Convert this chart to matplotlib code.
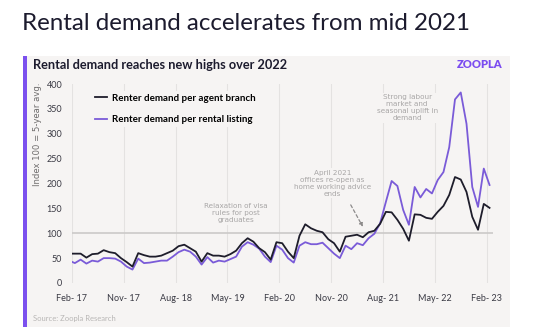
import numpy as np
import matplotlib
matplotlib.use("Agg")
import matplotlib.pyplot as plt
from matplotlib.patches import Rectangle

# ----------------------------
# Data (monthly index, Jan 17 .. Feb 23, 100 = 5-year avg.)
# ----------------------------
agent_branch = [
    59, 59, 59, 51, 58, 59, 66, 62, 60, 50, 42, 33,
    60, 56, 53, 53, 55, 60, 65, 74, 77, 70, 63, 43,
    60, 55, 55, 53, 58, 65, 80, 90, 83, 70, 62, 47,
    82, 80, 63, 50, 95, 118, 110, 105, 102, 88, 80, 63,
    93, 95, 97, 92, 102, 105, 119, 143, 142, 127, 109, 85,
    138, 137, 131, 129, 143, 155, 177, 213, 208, 183, 133, 107,
    159, 151,
]
rental_listing = [
    45, 40, 47, 39, 45, 43, 50, 50, 49, 43, 33, 27,
    49, 40, 41, 43, 45, 45, 53, 62, 67, 63, 53, 37,
    52, 41, 45, 43, 48, 53, 73, 82, 77, 69, 53, 42,
    75, 67, 50, 41, 75, 82, 78, 78, 81, 70, 59, 50,
    75, 68, 80, 76, 90, 99, 120, 163, 205, 195, 147, 117,
    193, 172, 189, 180, 207, 223, 273, 369, 383, 320, 193, 153,
    230, 197,
]
# months since Feb 17, points sit mid-month
months = np.arange(len(agent_branch)) - 1 + 0.5

tick_pos = [0, 9, 18, 27, 36, 45, 54, 63, 72]
tick_labels = ["Feb- 17", "Nov- 17", "Aug- 18", "May- 19", "Feb- 20",
               "Nov- 20", "Aug- 21", "May- 22", "Feb- 23"]

BLACK = "#1e1d2b"
PURPLE = "#7a5bd8"
PANEL = "#f6f4f3"
GREY_TXT = "#a8a6a6"
FONT = "Lato"
WIDE = "DejaVu Sans"

# ----------------------------
# Figure + panel
# ----------------------------
W, H = 554, 330
fig = plt.figure(figsize=(W / 100, H / 100), dpi=100)

def fx(px):
    return px / W

def fy(py):
    return 1 - py / H

fig.patches.append(Rectangle((fx(23), fy(327)), fx(510) - fx(23), fy(56) - fy(327),
                             transform=fig.transFigure, facecolor=PANEL, edgecolor="none", zorder=-2))
fig.patches.append(Rectangle((fx(23), fy(327)), fx(4), fy(56) - fy(327),
                             transform=fig.transFigure, facecolor="#7b50ee", edgecolor="none", zorder=-1))

fig.text(fx(22), fy(24), "Rental demand accelerates from mid 2021", fontsize=17.4,
         color="#1c1b2e", family=FONT, va="center", ha="left")
fig.text(fx(33), fy(65), "Rental demand reaches new highs over 2022", fontsize=9.2,
         color="#1c1b2e", family=FONT, fontweight="bold", va="center", ha="left")
fig.text(fx(502), fy(64), "ZOOPLA", fontsize=8, color="#7b4cf0", family=FONT,
         fontweight="heavy", va="center", ha="right")
fig.text(fx(33), fy(318), "Source: Zoopla Research", fontsize=5.5, color="#b8b6b5",
         family=FONT, va="center", ha="left")
fig.text(fx(37), fy(83), "Index 100 = 5-year avg.", fontsize=6.1, color="#6f6d6d",
         family=WIDE, rotation=90, va="top", ha="center")

# ----------------------------
# Axes
# ----------------------------
ax = fig.add_axes([fx(72), fy(283), fx(493) - fx(72), fy(84) - fy(283)])
ax.patch.set_visible(False)

ax.plot(months, agent_branch, color=BLACK, lw=1.3, label="Renter demand per agent branch", zorder=4)
ax.plot(months, rental_listing, color=PURPLE, lw=1.3, label="Renter demand per rental listing", zorder=3)
ax.axhline(100, color="#cbc9c8", lw=1.2, zorder=2)

ax.set_xlim(0, 73.1)
ax.set_ylim(0, 400)
ax.set_xticks(tick_pos)
ax.set_xticklabels(tick_labels)
ax.set_yticks(np.arange(0, 401, 50))
ax.grid(axis="x", color="#e4e2e1", lw=0.8, zorder=1)
ax.grid(axis="y", visible=False)
ax.tick_params(length=0, labelsize=6.5, colors="#3a3a44")
ax.tick_params(axis="x", pad=8)
ax.tick_params(axis="y", pad=7)
for lab in ax.get_xticklabels() + ax.get_yticklabels():
    lab.set_family(FONT)
for s in ax.spines.values():
    s.set_visible(False)

leg = ax.legend(loc="upper left", bbox_to_anchor=(0.035, 0.99), frameon=True,
                facecolor=PANEL, edgecolor="none", framealpha=1,
                handlelength=1.3, handletextpad=0.5, labelspacing=1.3,
                borderpad=0.3, prop={"family": FONT, "weight": "bold", "size": 7})
leg.set_zorder(5)

# ----------------------------
# Annotations
# ----------------------------
ann_kw = dict(fontsize=5.2, color=GREY_TXT, family=WIDE, ha="center", va="center",
              linespacing=1.2, zorder=5,
              bbox=dict(facecolor=PANEL, edgecolor="none", pad=1))
ax.text(28.5, 140, "Relaxation of visa\nrules for post\ngraduates", **ann_kw)
ax.text(45.2, 201, "April 2021\noffices re-open as\nhome working advice\nends", **ann_kw)
ax.text(58.2, 352, "Strong labour\nmarket and\nseasonal uplift in\ndemand", **ann_kw)
ax.annotate("", xy=(50.5, 113), xytext=(48.4, 157),
            arrowprops=dict(arrowstyle="-|>", color="#8c8a8a", lw=0.9, ls=(0, (2.5, 2)),
                            mutation_scale=5, shrinkA=0, shrinkB=0), zorder=5)

fig.savefig("out.png", dpi=100)
